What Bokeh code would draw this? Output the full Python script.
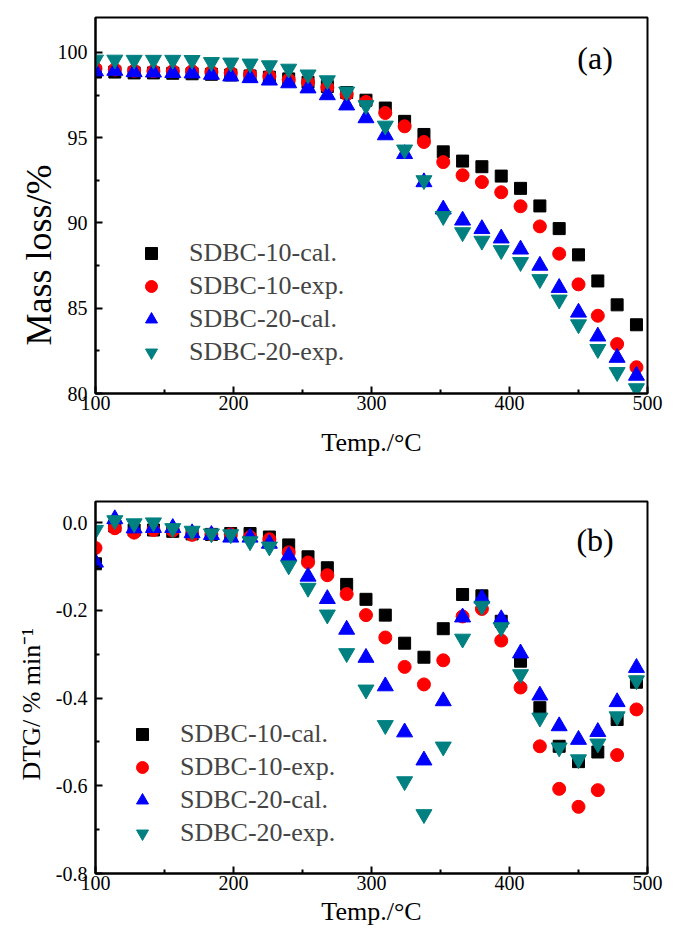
from bokeh.plotting import figure
from bokeh.layouts import column
from bokeh.models import (Legend, LegendItem, FixedTicker, Label, PrintfTickFormatter,
                          Range1d, Title)
from bokeh.embed import file_html
from bokeh.resources import INLINE

# ---------------- data ----------------
temp = [100, 114, 128, 142, 156, 170, 184, 198, 212, 226, 240, 254, 268, 282, 296,
        310, 324, 338, 352, 366, 380, 394, 408, 422, 436, 450, 464, 478, 492]

series_names = ["SDBC-10-cal.", "SDBC-10-exp.", "SDBC-20-cal.", "SDBC-20-exp."]

mass_10_cal = [98.85, 98.85, 98.8, 98.8, 98.78, 98.75, 98.72, 98.68, 98.62, 98.55, 98.45, 98.25,
               98.0, 97.65, 97.2, 96.74, 95.96, 95.19, 94.17, 93.63, 93.3, 92.75, 92.03, 91.0,
               89.67, 88.13, 86.6, 85.2, 84.03]
mass_10_exp = [99.05, 99.0, 98.93, 98.9, 98.9, 98.9, 98.85, 98.8, 98.7, 98.6, 98.4, 98.25,
               97.95, 97.55, 97.1, 96.45, 95.67, 94.75, 93.57, 92.8, 92.4, 91.8, 90.98, 89.8,
               88.2, 86.4, 84.56, 82.9, 81.54]
mass_20_cal = [98.9, 98.93, 98.85, 98.83, 98.8, 98.78, 98.7, 98.6, 98.5, 98.36, 98.2, 97.9,
               97.5, 96.9, 96.15, 95.15, 94.05, 92.4, 90.8, 90.15, 89.65, 89.1, 88.45, 87.5,
               86.2, 84.75, 83.35, 82.1, 81.05]
mass_20_exp = [99.57, 99.57, 99.56, 99.56, 99.56, 99.55, 99.43, 99.4, 99.34, 99.24, 99.04, 98.7,
               98.36, 97.7, 96.9, 95.7, 94.3, 92.5, 90.4, 89.45, 88.95, 88.4, 87.7, 86.7,
               85.5, 84.05, 82.6, 81.25, 80.3]

dtg_10_cal = [-0.094, -0.008, -0.017, -0.017, -0.02, -0.026, -0.027, -0.025, -0.025, -0.033,
              -0.051, -0.078, -0.103, -0.141, -0.175, -0.211, -0.275, -0.307, -0.242, -0.164,
              -0.167, -0.225, -0.316, -0.422, -0.51, -0.545, -0.523, -0.449, -0.364]
dtg_10_exp = [-0.058, -0.013, -0.023, -0.017, -0.018, -0.028, -0.027, -0.027, -0.033, -0.038,
              -0.068, -0.091, -0.12, -0.163, -0.211, -0.262, -0.329, -0.369, -0.314, -0.214,
              -0.197, -0.269, -0.376, -0.51, -0.607, -0.648, -0.61, -0.53, -0.426]
dtg_20_cal = [-0.091, 0.008, -0.013, -0.012, -0.012, -0.024, -0.028, -0.034, -0.034, -0.048,
              -0.076, -0.123, -0.174, -0.244, -0.308, -0.373, -0.478, -0.542, -0.407, -0.216,
              -0.173, -0.22, -0.298, -0.394, -0.464, -0.495, -0.477, -0.409, -0.331]
dtg_20_exp = [-0.017, 0.005, -0.002, 0.0, -0.013, -0.019, -0.025, -0.027, -0.043, -0.055,
              -0.098, -0.149, -0.21, -0.298, -0.381, -0.462, -0.59, -0.665, -0.511, -0.265,
              -0.19, -0.239, -0.346, -0.445, -0.513, -0.54, -0.504, -0.442, -0.36]

x_ticks = [100, 200, 300, 400, 500]
x_minor = [150, 250, 350, 450]
mass_ticks = [80, 85, 90, 95, 100]
mass_minor = [82.5, 87.5, 92.5, 97.5]
dtg_ticks = [-0.8, -0.6, -0.4, -0.2, 0.0]
dtg_minor = [-0.7, -0.5, -0.3, -0.1]

# ---------------- styles ----------------
FONT = "Liberation Serif"
colors = ["#000000", "#ff0000", "#0000ff", "#008080"]
markers = ["square", "circle", "triangle", "inverted_triangle"]
sizes = [12, 13, 16, 16]


def style(p, xt, xm, yt, ym):
    p.xgrid.visible = False
    p.ygrid.visible = False
    p.outline_line_color = "black"
    p.outline_line_width = 2
    p.outline_line_alpha = 1
    p.background_fill_color = "white"
    p.border_fill_color = "white"
    p.xaxis.ticker = FixedTicker(ticks=xt, minor_ticks=xm)
    p.yaxis.ticker = FixedTicker(ticks=yt, minor_ticks=ym)
    for ax in (p.xaxis[0], p.yaxis[0]):
        ax.axis_line_width = 2
        ax.axis_line_color = "black"
        ax.major_tick_in = 7
        ax.major_tick_out = 0
        ax.minor_tick_in = 4
        ax.minor_tick_out = 0
        ax.major_tick_line_width = 2
        ax.minor_tick_line_width = 2
        ax.major_label_text_font = FONT
        ax.major_label_text_font_size = "20px"
        ax.major_label_text_color = "black"
        ax.axis_label_text_font = FONT
        ax.axis_label_text_font_size = "26px"
        ax.axis_label_text_font_style = "normal"
        ax.axis_label_text_color = "black"
    p.xaxis.major_label_standoff = 2
    p.yaxis.major_label_standoff = 8


def add_series(p, ys_list, loc):
    rs = []
    for ys, c, m, s in zip(ys_list, colors, markers, sizes):
        r = p.scatter(temp, ys, marker=m, size=s, fill_color=c, line_color=c)
        rs.append(r)
    items = [LegendItem(label=n, renderers=[r]) for n, r in zip(series_names, rs)]
    leg = Legend(items=items, location=loc, orientation="vertical",
                 border_line_color=None, background_fill_alpha=0,
                 label_text_font=FONT, label_text_font_size="26px",
                 glyph_width=30, glyph_height=30, label_height=30,
                 label_standoff=23, spacing=3, padding=0, margin=0)
    p.add_layout(leg)
    return rs


def y_title(p, text, size, offset, standoff):
    t = Title(text=text, align="left", offset=offset, standoff=standoff,
              vertical_align="bottom", text_font=FONT, text_font_size=size,
              text_font_style="normal", text_color="black")
    p.add_layout(t, "left")


# ---------------- figure (a) ----------------
p1 = figure(width=673, height=470, output_backend="svg", toolbar_location=None,
            x_range=Range1d(100, 500), y_range=Range1d(80, 102.05),
            min_border_left=93, min_border_right=16, min_border_top=17, min_border_bottom=77)
style(p1, x_ticks, x_minor, mass_ticks, mass_minor)
p1.xaxis.axis_label = "Temp./°C"
p1.xaxis.axis_label_standoff = 15
add_series(p1, [mass_10_cal, mass_10_exp, mass_20_cal, mass_20_exp], (41, 26))
y_title(p1, "Mass loss/%", "36px", 48, -8)
p1.add_layout(Label(x=462, y=99.7, text="(a)", text_font=FONT, text_font_size="32px",
                    text_align="center", text_baseline="middle", text_color="black"))

# ---------------- figure (b) ----------------
p2 = figure(width=673, height=461, output_backend="svg", toolbar_location=None,
            x_range=Range1d(100, 500), y_range=Range1d(-0.8, 0.048),
            min_border_left=95, min_border_right=26, min_border_top=31, min_border_bottom=58)
style(p2, x_ticks, x_minor, dtg_ticks, dtg_minor)
p2.yaxis.formatter = PrintfTickFormatter(format="%.1f")
p2.xaxis.axis_label = "Temp./°C"
p2.xaxis.axis_label_standoff = 4
add_series(p2, [dtg_10_cal, dtg_10_exp, dtg_20_cal, dtg_20_exp], (32, 25))
y_title(p2, "DTG/ % min⁻¹", "26px", 93, 14)
p2.add_layout(Label(x=462, y=-0.04, text="(b)", text_font=FONT, text_font_size="32px",
                    text_align="center", text_baseline="middle", text_color="black"))

layout = column(p1, p2, spacing=0)
open("out.html", "w").write(file_html(layout, INLINE))
